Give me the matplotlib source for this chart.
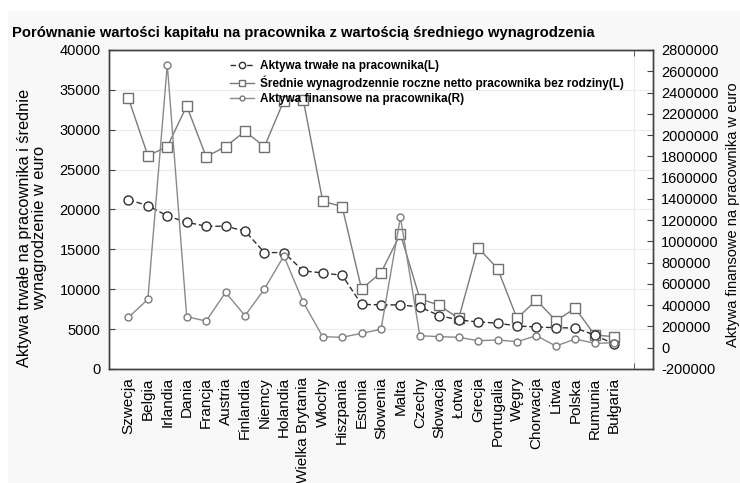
import numpy as np
import matplotlib
matplotlib.use("Agg")
import matplotlib.pyplot as plt
from matplotlib.patches import Rectangle
from matplotlib.ticker import FuncFormatter

# Data
countries = ["Szwecja", "Belgia", "Irlandia", "Dania", "Francja", "Austria",
             "Finlandia", "Niemcy", "Holandia", "Wielka Brytania", "Włochy",
             "Hiszpania", "Estonia", "Słowenia", "Malta", "Czechy", "Słowacja",
             "Łotwa", "Grecja", "Portugalia", "Węgry", "Chorwacja", "Litwa",
             "Polska", "Rumunia", "Bułgaria"]

aktywa_trwale = [21200, 20500, 19200, 18400, 17900, 17900, 17300, 14600,
                 14600, 12300, 12050, 11750, 8100, 8050, 8030, 7780, 6700,
                 6150, 5900, 5750, 5400, 5270, 5180, 5140, 4260, 3130]

wynagrodzenie = [33950, 26750, 27880, 32980, 26620, 27880, 29800, 27880,
                 33650, 33730, 21050, 20350, 10030, 12080, 16930, 8820, 7980,
                 6350, 15200, 12600, 6350, 8650, 6060, 7610, 4260, 4050]

aktywa_finansowe = [286000, 455000, 2662000, 292000, 251000, 521000, 301000,
                    552000, 863000, 427000, 104000, 98000, 136000, 173000,
                    1227000, 113000, 104000, 98000, 66000, 73000, 57000,
                    113000, 16000, 82000, 41000, 47000]

left_ticks = list(range(0, 40001, 5000))
right_ticks = list(range(-200000, 2800001, 200000))

plt.rcParams['font.family'] = ['Liberation Sans', 'DejaVu Sans']

def main():
    fig = plt.figure(figsize=(7.4, 4.83), dpi=100, facecolor='#f8f8f8')
    fig.add_artist(Rectangle((0, 0), 7 / 740, 1, transform=fig.transFigure,
                             color='white', zorder=0))
    fig.add_artist(Rectangle((0, 1 - 10 / 483), 1, 10 / 483,
                             transform=fig.transFigure, color='white', zorder=0))

    ax = fig.add_axes([109 / 740, 1 - 369 / 483, 544 / 740, 319 / 483])
    ax.set_facecolor('white')
    ax2 = ax.twinx()

    x = np.arange(len(countries))

    l1, = ax.plot(x, aktywa_trwale, linestyle=(0, (4, 2)), color='#303030',
                  lw=1.0, marker='o', ms=6.5, mfc='white', mec='#303030',
                  mew=1.0, zorder=4)
    l2, = ax.plot(x, wynagrodzenie, linestyle='-', color='#7a7a7a', lw=1.0,
                  marker='s', ms=7, mfc='white', mec='#707070', mew=1.0,
                  zorder=3)
    l3, = ax2.plot(x, aktywa_finansowe, linestyle='-', color='#8a8a8a', lw=1.0,
                   marker='o', ms=5, mfc='white', mec='#7a7a7a', mew=1.0,
                   zorder=3)

    ax.set_xlim(-1, 27)
    ax.set_ylim(0, 40000)
    ax2.set_ylim(-200000, 2800000)

    ax.set_yticks(left_ticks)
    ax2.set_yticks(right_ticks)
    plain = FuncFormatter(lambda v, p: "%d" % v)
    ax.yaxis.set_major_formatter(plain)
    ax2.yaxis.set_major_formatter(plain)

    ax.set_xticks(x)
    ax.set_xticklabels(countries, rotation=90, fontsize=11)
    ax.set_xticks(np.arange(0, 27, 2), minor=True)
    ax.tick_params(axis='x', which='major', length=0, pad=6)
    ax.tick_params(axis='x', which='minor', direction='in', length=4,
                   top=True, bottom=True, color='#404040')
    ax.tick_params(axis='y', direction='in', length=4, labelsize=10.5,
                   color='#404040', pad=6)
    ax2.tick_params(axis='y', direction='in', length=4, labelsize=10.5,
                    color='#404040', pad=6)

    ax.grid(True, which='minor', axis='x', color='#ececec', lw=0.8)
    ax.grid(True, which='major', axis='y', color='#ececec', lw=0.8)
    ax.set_axisbelow(True)

    for a in (ax, ax2):
        for s in a.spines.values():
            s.set_color('#404040')
            s.set_linewidth(1.0)

    fig.text(12 / 740, 1 - 33 / 483,
             "Porównanie wartości kapitału na pracownika z wartością średniego wynagrodzenia",
             fontsize=10.6, fontweight='bold', ha='left', va='center')

    fig.text(32 / 740, 1 - 228 / 483,
             "Aktywa trwałe na pracownika i średnie\nwynagrodzenie w euro",
             rotation=90, fontsize=11.8, ha='center', va='center',
             multialignment='center', linespacing=1.05)
    fig.text(733 / 740, 1 - 215 / 483, "Aktywa finansowe na pracownika w euro",
             rotation=90, fontsize=10.5, ha='center', va='center')

    ax.legend([l1, l2, l3],
              ["Aktywa trwałe na pracownika(L)",
               "Średnie wynagrodzennie roczne netto pracownika bez rodziny(L)",
               "Aktywa finansowe na pracownika(R)"],
              loc='upper left', bbox_to_anchor=(222 / 740, 1 - 52 / 483),
              bbox_transform=fig.transFigure, frameon=False,
              prop={'size': 8.5, 'weight': 'bold'}, handlelength=2.0,
              handletextpad=0.5, labelspacing=0.25, borderpad=0.2,
              markerscale=0.7)

    fig.savefig("out.png", dpi=100, facecolor=fig.get_facecolor())

if __name__ == "__main__":
    main()
